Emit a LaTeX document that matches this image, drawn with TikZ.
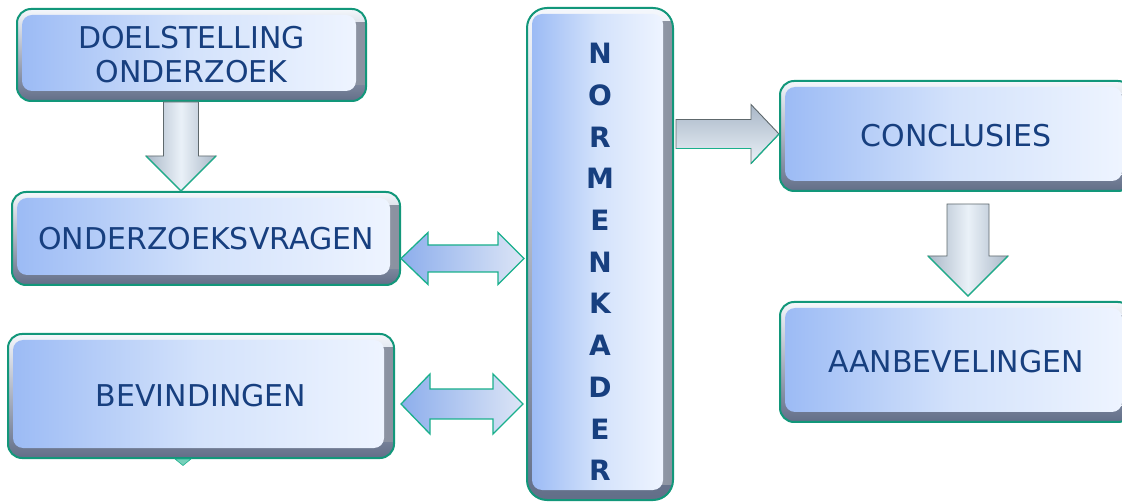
\documentclass[tikz,border=0pt]{standalone}
\usepackage{fontspec}
\setmainfont{DejaVu Sans}
\usetikzlibrary{calc}
\definecolor{txtb}{HTML}{173F7F}
\definecolor{bord}{HTML}{12977A}
\definecolor{ateal}{HTML}{1AB08C}
\definecolor{inL}{HTML}{9CBBF5}
\definecolor{inM}{HTML}{D3E2FB}
\definecolor{inR}{HTML}{EEF4FF}
\definecolor{bevT}{HTML}{F4F7FC}
\definecolor{bevB}{HTML}{626E88}
\definecolor{rsL}{HTML}{D6DAE2}
\definecolor{rsR}{HTML}{8A91A0}
\definecolor{agray}{HTML}{5E686C}
\definecolor{aL}{HTML}{8DAEEC}
\definecolor{aR}{HTML}{DCE5F6}
\definecolor{dA}{HTML}{A9B7C7}
\definecolor{dB}{HTML}{EAF1F8}
\tikzset{
  bbox/.style={draw=bord, line width=2pt, rounded corners=14pt,
    top color=bevT, bottom color=bevB, text=txtb, align=center, inner sep=0pt,
    font=\fontsize{30}{34}\selectfont,
    path picture={
      \shade[sharp corners, left color=rsL, right color=rsR]
        ([xshift=-16pt,yshift=-14pt]path picture bounding box.north east) rectangle
        ([yshift=16pt]path picture bounding box.south east);
      \shade[left color=inL, right color=inR, middle color=inM, rounded corners=10pt]
      ([xshift=5pt,yshift=-6pt]path picture bounding box.north west) rectangle
      ([xshift=-10pt,yshift=10pt]path picture bounding box.south east);}},
  dblarrow/.style={draw=ateal, line width=1.3pt, left color=aL, right color=aR, line join=miter},
  downarrow/.style={draw=agray, line width=0.9pt, left color=dA, right color=dA, middle color=dB, line join=miter},
  rightarrow/.style={draw=agray, line width=0.9pt, top color=dA, bottom color=dB, line join=miter},
  tealedge/.style={draw=ateal, line width=1.2pt}
}
\begin{document}
\begin{tikzpicture}[x=1pt,y=-1pt]
\useasboundingbox (0,0) rectangle (1122,502);
% boxes
\node[bbox, minimum width=349pt, minimum height=92pt] (doel) at (191.5,55) {DOELSTELLING\\ONDERZOEK};
\node[bbox, minimum width=388pt, minimum height=93pt] (ov) at (206,238.5) {ONDERZOEKSVRAGEN};
\node[bbox, minimum width=386pt, minimum height=124pt] (bev) at (201,396) {BEVINDINGEN};
\node[bbox, rounded corners=20pt, minimum width=146pt, minimum height=492pt] (nk) at (600,254) {};
\node[text=txtb, font=\bfseries\fontsize{28}{41.7}\selectfont, align=center] (nktext) at (600,262)
  {N\\O\\R\\M\\E\\N\\K\\A\\D\\E\\R};
\node[bbox, minimum width=352pt, minimum height=110pt] (con) at (956,136) {CONCLUSIES};
\node[bbox, minimum width=352pt, minimum height=120pt] (aan) at (956,362) {AANBEVELINGEN};
% hidden arrow tip under BEVINDINGEN
\fill[ateal!60!white, draw=ateal, line width=0.6pt] (175,459) -- (191,459) -- (183,465.5) -- cycle;
% down arrow 1
\coordinate (d1t) at ($(doel.south)+(-10.5,0)$);
\coordinate (d1b) at (d1t |- ov.north);
\path[downarrow] ($(d1t)+(-17.5,0)$) -- ($(d1t)+(17.5,0)$) -- ($(d1b)+(17.5,-35)$) -- ($(d1b)+(35,-35)$)
  -- (d1b) -- ($(d1b)+(-35,-35)$) -- ($(d1b)+(-17.5,-35)$) -- cycle;
\draw[tealedge] ($(d1b)+(35,-35)$) -- (d1b) -- ($(d1b)+(-35,-35)$);
% down arrow 2
\coordinate (d2t) at ($(con.south)+(12,12)$);
\coordinate (d2b) at ($(d2t |- aan.north)+(0,-5)$);
\path[downarrow] ($(d2t)+(-21,0)$) -- ($(d2t)+(21,0)$) -- ($(d2b)+(21,-40)$) -- ($(d2b)+(40,-40)$)
  -- (d2b) -- ($(d2b)+(-40,-40)$) -- ($(d2b)+(-21,-40)$) -- cycle;
\draw[tealedge] ($(d2b)+(40,-40)$) -- (d2b) -- ($(d2b)+(-40,-40)$);
% right arrow
\coordinate (rl) at ($(nk.east)+(2,-120)$);
\coordinate (rr) at (rl -| con.west);
\path[rightarrow] ($(rl)+(0,-14.5)$) -- ($(rr)+(-28,-14.5)$) -- ($(rr)+(-28,-29.5)$) -- (rr)
  -- ($(rr)+(-28,29.5)$) -- ($(rr)+(-28,14.5)$) -- ($(rl)+(0,14.5)$) -- cycle;
\draw[tealedge] (rr) -- ($(rr)+(-28,29.5)$);
\draw[tealedge, line width=0.8pt] ($(rr)+(-28,14.5)$) -- ($(rl)+(0,14.5)$);
% double arrows
\coordinate (a1l) at ($(ov.east)+(0,20)$);
\coordinate (a1r) at ($(a1l -| nk.west)+(-2,0)$);
\path[dblarrow] (a1l) -- ($(a1l)+(27,-26)$) -- ($(a1l)+(27,-13.5)$) -- ($(a1r)+(-26,-13.5)$) -- ($(a1r)+(-26,-26)$)
  -- (a1r) -- ($(a1r)+(-26,26)$) -- ($(a1r)+(-26,13.5)$) -- ($(a1l)+(27,13.5)$) -- ($(a1l)+(27,26)$) -- cycle;
\coordinate (a2l) at ($(bev.east)+(6,8)$);
\coordinate (a2r) at ($(a2l -| nk.west)+(-3,0)$);
\path[dblarrow] (a2l) -- ($(a2l)+(29,-30)$) -- ($(a2l)+(29,-15)$) -- ($(a2r)+(-30,-15)$) -- ($(a2r)+(-30,-30)$)
  -- (a2r) -- ($(a2r)+(-30,30)$) -- ($(a2r)+(-30,15)$) -- ($(a2l)+(29,15)$) -- ($(a2l)+(29,30)$) -- cycle;
\end{tikzpicture}
\end{document}
